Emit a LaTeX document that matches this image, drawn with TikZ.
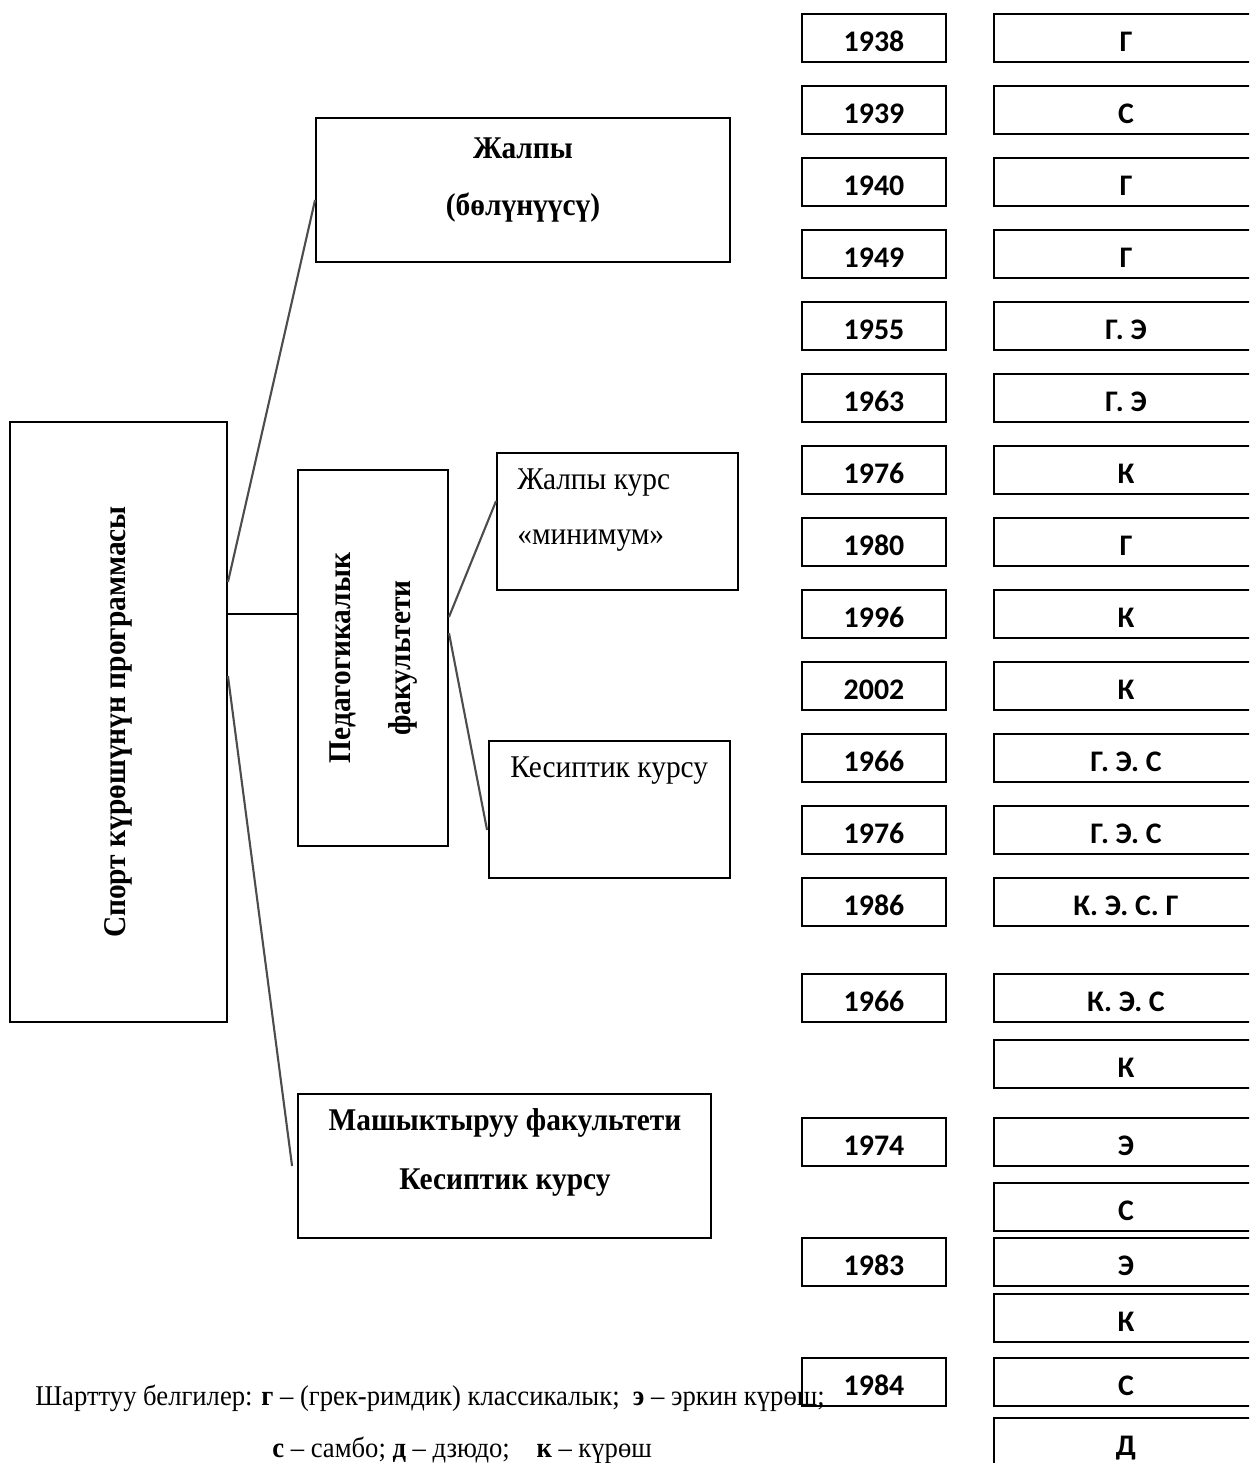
\documentclass[tikz,border=0pt]{standalone}
\usepackage{fontspec}
\setmainfont{Liberation Serif}[FakeStretch=0.93]
\newfontfamily\calib{Carlito}
\begin{document}
\begin{tikzpicture}[x=0.02cm, y=-0.02cm,
    frame/.style={draw, line width=1.1pt, inner sep=0pt},
    yearbox/.style={frame, minimum width=2.88cm, minimum height=0.96cm,
      text height=15pt, text depth=0pt, font=\calib\bfseries\fontsize{17}{20}\selectfont},
    kindbox/.style={yearbox, minimum width=5.28cm},
    boxtext/.style={inner sep=0pt, font=\fontsize{18}{22}\selectfont},
    link/.style={draw=black!70, line width=1.2pt}]
  \useasboundingbox (0,0) rectangle (1249,1463);
  \clip (0,0) rectangle (1249,1463);

  % левая часть схемы
  \node[frame, minimum width=4.34cm, minimum height=12cm] (prog) at (118.5,722)
    {\rotatebox{90}{\fontsize{18}{22}\selectfont\bfseries Спорт күрөшүнүн программасы}};
  \node[frame, minimum width=8.28cm, minimum height=2.88cm] (gen) at (523,190) {};
  \node[boxtext, font=\fontsize{18}{22}\selectfont\bfseries] (gentop) at (523,148) {Жалпы};
  \node[boxtext, font=\fontsize{18}{22}\selectfont\bfseries] (genbot) at (523,208) {(бөлүнүүсү)};

  \node[frame, minimum width=3cm, minimum height=7.52cm] (ped) at (373,658)
    {\rotatebox{90}{\fontsize{18}{22}\selectfont\bfseries
      \begin{tabular}{@{}c@{}}Педагогикалык\\[12pt]факультети\end{tabular}}};

  \node[frame, minimum width=4.82cm, minimum height=2.74cm] (mincourse) at (617.5,521.5) {};
  \node[boxtext, anchor=west] (mintop) at (517,483) {Жалпы курс};
  \node[boxtext, anchor=west] (minbot) at (517,541) {«минимум»};

  \node[frame, minimum width=4.82cm, minimum height=2.74cm] (profcourse) at (609.5,809.5) {};
  \node[boxtext, anchor=west] (proftext) at (510,771) {Кесиптик курсу};

  \node[frame, minimum width=8.26cm, minimum height=2.88cm] (train) at (504.5,1166) {};
  \node[boxtext, font=\fontsize{18}{22}\selectfont\bfseries] (traintop) at (505,1123) {Машыктыруу факультети};
  \node[boxtext, font=\fontsize{18}{22}\selectfont\bfseries] (trainbot) at (505,1183) {Кесиптик курсу};

  % байланыштар
  \draw[link] ([yshift=2.8cm]prog.east) -- ([yshift=-0.2cm]gen.west);
  \draw[line width=1.1pt] ([yshift=2.16cm]prog.east) -- ([yshift=0.88cm]ped.west);
  \draw[link] ([yshift=0.92cm]prog.east) -- ([xshift=-0.1cm]train.west);
  \draw[link] ([yshift=0.82cm]ped.east) -- ([yshift=0.41cm]mincourse.west);
  \draw[link] ([yshift=0.5cm]ped.east) -- ([xshift=-0.02cm,yshift=-0.41cm]profcourse.west);

  % жылдар
  \foreach \yr/\yy [count=\i] in {1938/38, 1939/110, 1940/182, 1949/254, 1955/326,
      1963/398, 1976/470, 1980/542, 1996/614, 2002/686, 1966/758, 1976/830,
      1986/902, 1966/998, 1974/1142, 1983/1262, 1984/1382}
    \node[yearbox] (yr\i) at (874,\yy) {\yr};

  % күрөштүн түрлөрү
  \foreach \kind/\yy [count=\i] in {Г/38, С/110, Г/182, Г/254, Г. Э/326, Г. Э/398,
      К/470, Г/542, К/614, К/686, Г. Э. С/758, Г. Э. С/830, К. Э. С. Г/902,
      К. Э. С/998, К/1064, Э/1142, С/1207, Э/1262, К/1318, С/1382, Д/1442}
    \node[kindbox] (kd\i) at (1126,\yy) {\kind};

  % шарттуу белгилер
  \node[anchor=base west, inner sep=0pt, font=\fontsize{16.3}{19}\selectfont] (legend1) at (35,1405)
    {Шарттуу белгилер: \textbf{г} – (грек-римдик) классикалык;\ \ \textbf{э} – эркин күрөш;};
  \node[anchor=base west, inner sep=0pt, font=\fontsize{16.3}{19}\selectfont] (legend2) at (272,1457)
    {\textbf{с} – самбо; \textbf{д} – дзюдо;\ \ \ \ \textbf{к} – күрөш};
\end{tikzpicture}
\end{document}
